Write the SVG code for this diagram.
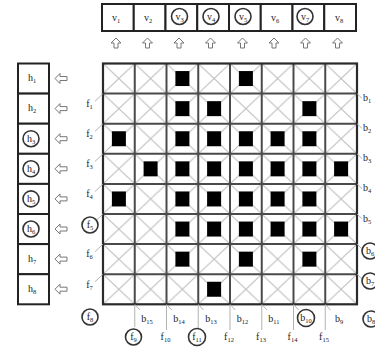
<svg xmlns="http://www.w3.org/2000/svg" xmlns:xlink="http://www.w3.org/1999/xlink" width="375" height="347" viewBox="0 0 375 347">
<defs>
<style>
.box{fill:#fff;stroke:#222;stroke-width:2}
.lbl{font-family:"Liberation Serif","Times New Roman",serif;font-size:10px;fill:#222;text-anchor:middle}
.lblL{font-family:"Liberation Serif","Times New Roman",serif;font-size:10px;fill:#222;text-anchor:start}
.sub{font-size:6.5px}
.ring{fill:none;stroke:#333;stroke-width:1.6}
.arrow{fill:#fff;stroke:#777;stroke-width:1}
.ext{stroke:#aaa;stroke-width:0.9;fill:none}
.gl{stroke:#4a4a4a;stroke-width:2}
.sq{fill:#000}
</style>
<pattern id="xcell" patternUnits="userSpaceOnUse" x="103" y="63.5" width="31.75" height="30.1">
<path d="M0,0 L31.75,30.1 M31.75,0 L0,30.1" stroke="#bbb" stroke-width="1" fill="none"/>
</pattern>
<path id="aup" class="arrow" d="M0,-5 L5,0 L2,0 L2,5 L-2,5 L-2,0 L-5,0 Z"/>
<path id="aleft" class="arrow" d="M-6,0 L-1,-5 L-1,-2 L6,-2 L6,2 L-1,2 L-1,5 Z"/>
<rect id="sq" class="sq" width="14" height="15"/>
</defs>
<rect width="375" height="347" fill="#fff"/>

<!-- top v boxes -->
<g id="v1"><rect class="box" x="102" y="4" width="31.75" height="27"/><text class="lbl" x="116" y="21">v<tspan class="sub" dy="2">1</tspan></text></g>
<g id="v2"><rect class="box" x="133.75" y="4" width="31.75" height="27"/><text class="lbl" x="148" y="21">v<tspan class="sub" dy="2">2</tspan></text></g>
<g id="v3"><rect class="box" x="165.5" y="4" width="31.75" height="27"/><circle class="ring" cx="179.5" cy="16.5" r="8"/><text class="lbl" x="179.5" y="20">v<tspan class="sub" dy="2">3</tspan></text></g>
<g id="v4"><rect class="box" x="197.25" y="4" width="31.75" height="27"/><circle class="ring" cx="211" cy="16.5" r="8"/><text class="lbl" x="211" y="20">v<tspan class="sub" dy="2">4</tspan></text></g>
<g id="v5"><rect class="box" x="229" y="4" width="31.75" height="27"/><circle class="ring" cx="243" cy="16.5" r="8"/><text class="lbl" x="243" y="20">v<tspan class="sub" dy="2">5</tspan></text></g>
<g id="v6"><rect class="box" x="260.75" y="4" width="31.75" height="27"/><text class="lbl" x="275" y="21">v<tspan class="sub" dy="2">6</tspan></text></g>
<g id="v7"><rect class="box" x="292.5" y="4" width="31.75" height="27"/><circle class="ring" cx="305" cy="16.5" r="8"/><text class="lbl" x="305" y="20">v<tspan class="sub" dy="2">7</tspan></text></g>
<g id="v8"><rect class="box" x="324.25" y="4" width="31.75" height="27"/><text class="lbl" x="339" y="21">v<tspan class="sub" dy="2">8</tspan></text></g>

<!-- left h boxes -->
<g id="h1"><rect class="box" x="18" y="63.5" width="31" height="30.1"/><text class="lbl" x="32" y="81">h<tspan class="sub" dy="2">1</tspan></text></g>
<g id="h2"><rect class="box" x="18" y="93.6" width="31" height="30.1"/><text class="lbl" x="32" y="111">h<tspan class="sub" dy="2">2</tspan></text></g>
<g id="h3"><rect class="box" x="18" y="123.7" width="31" height="30.1"/><circle class="ring" cx="31" cy="138.7" r="8"/><text class="lbl" x="31" y="141.5">h<tspan class="sub" dy="2">3</tspan></text></g>
<g id="h4"><rect class="box" x="18" y="153.8" width="31" height="30.1"/><circle class="ring" cx="31" cy="168.8" r="8"/><text class="lbl" x="31" y="171.6">h<tspan class="sub" dy="2">4</tspan></text></g>
<g id="h5"><rect class="box" x="18" y="183.9" width="31" height="30.1"/><circle class="ring" cx="31" cy="198.9" r="8"/><text class="lbl" x="31" y="201.7">h<tspan class="sub" dy="2">5</tspan></text></g>
<g id="h6"><rect class="box" x="18" y="214" width="31" height="30.1"/><circle class="ring" cx="31" cy="229" r="8"/><text class="lbl" x="31" y="231.8">h<tspan class="sub" dy="2">6</tspan></text></g>
<g id="h7"><rect class="box" x="18" y="244.1" width="31" height="30.1"/><text class="lbl" x="32" y="261.5">h<tspan class="sub" dy="2">7</tspan></text></g>
<g id="h8"><rect class="box" x="18" y="274.2" width="31" height="30.1"/><text class="lbl" x="32" y="291.5">h<tspan class="sub" dy="2">8</tspan></text></g>

<!-- matrix -->
<g id="matrix">
<rect x="103" y="63.5" width="254" height="240.8" fill="url(#xcell)"/>
<g id="filled">
<use xlink:href="#sq" x="175.4" y="71.05"/><use xlink:href="#sq" x="238.9" y="71.05"/>
<use xlink:href="#sq" x="175.4" y="101.15"/><use xlink:href="#sq" x="207.1" y="101.15"/><use xlink:href="#sq" x="302.4" y="101.15"/>
<use xlink:href="#sq" x="111.9" y="131.25"/><use xlink:href="#sq" x="175.4" y="131.25"/><use xlink:href="#sq" x="207.1" y="131.25"/><use xlink:href="#sq" x="238.9" y="131.25"/><use xlink:href="#sq" x="270.6" y="131.25"/><use xlink:href="#sq" x="302.4" y="131.25"/>
<use xlink:href="#sq" x="143.6" y="161.35"/><use xlink:href="#sq" x="175.4" y="161.35"/><use xlink:href="#sq" x="207.1" y="161.35"/><use xlink:href="#sq" x="238.9" y="161.35"/><use xlink:href="#sq" x="270.6" y="161.35"/><use xlink:href="#sq" x="302.4" y="161.35"/><use xlink:href="#sq" x="334.1" y="161.35"/>
<use xlink:href="#sq" x="111.9" y="191.45"/><use xlink:href="#sq" x="175.4" y="191.45"/><use xlink:href="#sq" x="207.1" y="191.45"/><use xlink:href="#sq" x="238.9" y="191.45"/><use xlink:href="#sq" x="270.6" y="191.45"/><use xlink:href="#sq" x="302.4" y="191.45"/>
<use xlink:href="#sq" x="175.4" y="221.55"/><use xlink:href="#sq" x="207.1" y="221.55"/><use xlink:href="#sq" x="238.9" y="221.55"/><use xlink:href="#sq" x="270.6" y="221.55"/><use xlink:href="#sq" x="302.4" y="221.55"/><use xlink:href="#sq" x="334.1" y="221.55"/>
<use xlink:href="#sq" x="175.4" y="251.65"/><use xlink:href="#sq" x="238.9" y="251.65"/><use xlink:href="#sq" x="302.4" y="251.65"/>
<use xlink:href="#sq" x="207.1" y="281.75"/>
</g>
<g id="gridlines" class="gl">
<line x1="134.75" y1="63.5" x2="134.75" y2="304.3"/><line x1="166.5" y1="63.5" x2="166.5" y2="304.3"/><line x1="198.25" y1="63.5" x2="198.25" y2="304.3"/><line x1="230" y1="63.5" x2="230" y2="304.3"/><line x1="261.75" y1="63.5" x2="261.75" y2="304.3"/><line x1="293.5" y1="63.5" x2="293.5" y2="304.3"/><line x1="325.25" y1="63.5" x2="325.25" y2="304.3"/>
<line x1="103" y1="93.6" x2="357" y2="93.6"/><line x1="103" y1="123.7" x2="357" y2="123.7"/><line x1="103" y1="153.8" x2="357" y2="153.8"/><line x1="103" y1="183.9" x2="357" y2="183.9"/><line x1="103" y1="214" x2="357" y2="214"/><line x1="103" y1="244.1" x2="357" y2="244.1"/><line x1="103" y1="274.2" x2="357" y2="274.2"/>
<rect x="103" y="63.5" width="254" height="240.8" fill="none" stroke="#2a2a2a" stroke-width="2.2"/>
</g>
</g>

<!-- connectors: arrows and diagonal extensions -->
<g id="connectors">
<use xlink:href="#aup" x="116" y="43"/><use xlink:href="#aup" x="147.5" y="43"/><use xlink:href="#aup" x="179" y="43"/><use xlink:href="#aup" x="210.5" y="43"/><use xlink:href="#aup" x="242.5" y="43"/><use xlink:href="#aup" x="274" y="43"/><use xlink:href="#aup" x="305.5" y="43"/><use xlink:href="#aup" x="337.5" y="43"/>
<use xlink:href="#aleft" x="61" y="78.5"/><use xlink:href="#aleft" x="61" y="108.6"/><use xlink:href="#aleft" x="61" y="138.7"/><use xlink:href="#aleft" x="61" y="168.8"/><use xlink:href="#aleft" x="61" y="198.9"/><use xlink:href="#aleft" x="61" y="229"/><use xlink:href="#aleft" x="61" y="259.1"/><use xlink:href="#aleft" x="61" y="289.2"/>
<g class="ext">
<path d="M103,93.6 L95,101.2 M103,123.7 L95,131.3 M103,153.8 L95,161.4 M103,183.9 L95,191.5 M103,214 L97,219.7 M103,244.1 L95,251.7 M103,274.2 L95,281.8"/>
<path d="M357,93.6 L362,98.3 M357,123.7 L362,128.4 M357,153.8 L362,158.5 M357,183.9 L362,188.6 M357,214 L362,218.7 M357,244.1 L361,247.9 M357,274.2 L361,278"/>
<path d="M134.75,305 V327 M166.5,305 V330 M198.25,305 V328 M230,305 V330 M261.75,305 V330 M293.5,305 V330 M325.25,305 V330"/>
<path d="M134.75,304.3 L140,310 M166.5,304.3 L171.7,310 M198.25,304.3 L203.5,310 M230,304.3 L235.2,310 M261.75,304.3 L267,310 M293.5,304.3 L298.7,310 M325.25,304.3 L330.5,310"/>
</g>
</g>

<!-- f labels -->
<g id="f1"><text class="lbl" x="89.5" y="107">f<tspan class="sub" dy="2">1</tspan></text></g>
<g id="f2"><text class="lbl" x="89.5" y="137">f<tspan class="sub" dy="2">2</tspan></text></g>
<g id="f3"><text class="lbl" x="89.5" y="167">f<tspan class="sub" dy="2">3</tspan></text></g>
<g id="f4"><text class="lbl" x="89.5" y="197">f<tspan class="sub" dy="2">4</tspan></text></g>
<g id="f5"><circle class="ring" cx="90" cy="225" r="8"/><text class="lbl" x="90" y="228">f<tspan class="sub" dy="2">5</tspan></text></g>
<g id="f6"><text class="lbl" x="89.5" y="257">f<tspan class="sub" dy="2">6</tspan></text></g>
<g id="f7"><text class="lbl" x="89.5" y="288">f<tspan class="sub" dy="2">7</tspan></text></g>
<g id="f8"><circle class="ring" cx="90" cy="317" r="8"/><text class="lbl" x="90" y="320">f<tspan class="sub" dy="2">8</tspan></text></g>
<g id="f9"><circle class="ring" cx="133.5" cy="337" r="8"/><text class="lbl" x="133.5" y="340">f<tspan class="sub" dy="2">9</tspan></text></g>
<g id="f10"><text class="lbl" x="165.5" y="340">f<tspan class="sub" dy="2">10</tspan></text></g>
<g id="f11"><circle class="ring" cx="197" cy="337" r="8.5"/><text class="lbl" x="197" y="340">f<tspan class="sub" dy="2">11</tspan></text></g>
<g id="f12"><text class="lbl" x="229" y="340">f<tspan class="sub" dy="2">12</tspan></text></g>
<g id="f13"><text class="lbl" x="261" y="340">f<tspan class="sub" dy="2">13</tspan></text></g>
<g id="f14"><text class="lbl" x="292.5" y="340">f<tspan class="sub" dy="2">14</tspan></text></g>
<g id="f15"><text class="lbl" x="324" y="340">f<tspan class="sub" dy="2">15</tspan></text></g>

<!-- b labels -->
<g id="b1"><text class="lblL" x="363" y="101">b<tspan class="sub" dy="2">1</tspan></text></g>
<g id="b2"><text class="lblL" x="363" y="131">b<tspan class="sub" dy="2">2</tspan></text></g>
<g id="b3"><text class="lblL" x="363" y="161">b<tspan class="sub" dy="2">3</tspan></text></g>
<g id="b4"><text class="lblL" x="363" y="191">b<tspan class="sub" dy="2">4</tspan></text></g>
<g id="b5"><text class="lblL" x="363" y="222">b<tspan class="sub" dy="2">5</tspan></text></g>
<g id="b6"><circle class="ring" cx="370" cy="251" r="8"/><text class="lbl" x="370" y="254">b<tspan class="sub" dy="2">6</tspan></text></g>
<g id="b7"><circle class="ring" cx="370" cy="281" r="8"/><text class="lbl" x="370" y="284">b<tspan class="sub" dy="2">7</tspan></text></g>
<g id="b8"><circle class="ring" cx="371" cy="319" r="8"/><text class="lbl" x="371" y="322">b<tspan class="sub" dy="2">8</tspan></text></g>
<g id="b9"><text class="lbl" x="339" y="322">b<tspan class="sub" dy="2">9</tspan></text></g>
<g id="b10"><circle class="ring" cx="306" cy="318" r="8.5"/><text class="lbl" x="306" y="321">b<tspan class="sub" dy="2">10</tspan></text></g>
<g id="b11"><text class="lbl" x="274" y="322">b<tspan class="sub" dy="2">11</tspan></text></g>
<g id="b12"><text class="lbl" x="242.5" y="322">b<tspan class="sub" dy="2">12</tspan></text></g>
<g id="b13"><text class="lbl" x="211" y="322">b<tspan class="sub" dy="2">13</tspan></text></g>
<g id="b14"><text class="lbl" x="179" y="322">b<tspan class="sub" dy="2">14</tspan></text></g>
<g id="b15"><text class="lbl" x="147" y="322">b<tspan class="sub" dy="2">15</tspan></text></g>
</svg>
